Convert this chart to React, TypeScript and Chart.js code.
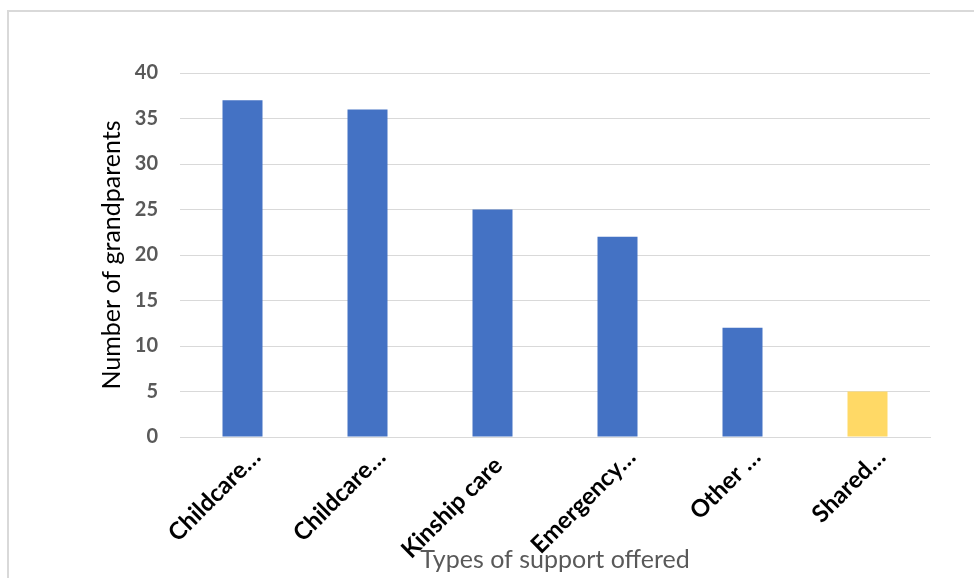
import React, { useEffect, useRef } from "react";
import { Chart, registerables } from "chart.js";

Chart.register(...registerables);

// Truncated category names; the untruncated one sits a little lower-left
const categories = [
  "Childcare…",
  "Childcare…",
  "Kinship care  ",
  "Emergency…",
  "Other …",
  "Shared…",
];
const grandparents = [37, 36, 25, 22, 12, 5];
const barColors = ["#4472C4", "#4472C4", "#4472C4", "#4472C4", "#4472C4", "#FFD966"];
const yTicks = [0, 5, 10, 15, 20, 25, 30, 35, 40];

const FONT = "Lato, 'Open Sans', 'Liberation Sans', sans-serif";

export default function App() {
  const canvasRef = useRef<HTMLCanvasElement | null>(null);

  useEffect(() => {
    const canvas = canvasRef.current;
    if (!canvas) return;
    const chart = new Chart(canvas, {
      type: "bar",
      data: {
        labels: categories,
        datasets: [
          {
            label: "Number of grandparents",
            data: grandparents,
            backgroundColor: barColors,
            borderWidth: 0,
            barPercentage: 0.32,
            categoryPercentage: 1,
          },
        ],
      },
      options: {
        responsive: false,
        animation: false,
        layout: { padding: { left: 0, right: 44, top: 73, bottom: 0 } },
        plugins: {
          legend: { display: false },
          tooltip: { enabled: false },
        },
        scales: {
          x: {
            grid: { display: false, drawTicks: false },
            border: { color: "#D9D9D9", width: 1 },
            ticks: {
              color: "#000000",
              font: { family: FONT, size: 24, weight: "bold" },
              minRotation: 45,
              maxRotation: 45,
              autoSkip: false,
              padding: 6,
              labelOffset: 14,
            },
            title: {
              display: true,
              text: "Types of support offered",
              color: "#595959",
              font: { family: FONT, size: 25 },
              padding: { top: 0, bottom: 3 },
            },
            afterFit: (scale: any) => {
              scale.height = 141;
            },
          },
          y: {
            min: 0,
            max: 40,
            afterBuildTicks: (scale: any) => {
              scale.ticks = yTicks.map((v) => ({ value: v }));
            },
            grid: { color: "#D9D9D9", lineWidth: 1, drawTicks: false },
            border: { display: false },
            ticks: {
              color: "#595959",
              font: { family: FONT, size: 20, weight: "bold" },
              padding: 22,
            },
            title: {
              display: true,
              text: "Number of grandparents",
              color: "#000000",
              font: { family: FONT, size: 25 },
              padding: { top: 97, bottom: 0 },
            },
            afterFit: (scale: any) => {
              scale.width = 180;
            },
          },
        },
      },
    });
    return () => chart.destroy();
  }, []);

  return (
    <div
      style={{
        position: "fixed",
        left: 0,
        top: 0,
        width: 974,
        height: 578,
        overflow: "hidden",
        background: "#FFFFFF",
      }}
    >
      <div
        style={{
          position: "absolute",
          left: 7,
          top: 10,
          width: 1000,
          height: 600,
          border: "2px solid #D9D9D9",
          boxSizing: "border-box",
        }}
      />
      <canvas
        ref={canvasRef}
        width={974}
        height={578}
        style={{ position: "absolute", left: 0, top: 0, display: "block" }}
      />
    </div>
  );
}
